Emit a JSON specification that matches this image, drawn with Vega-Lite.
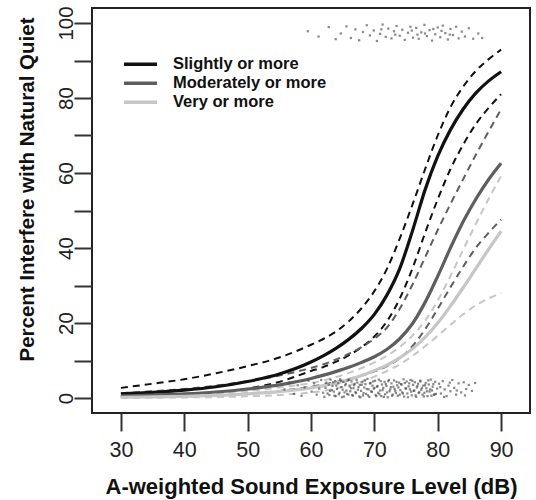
{
  "$schema": "https://vega.github.io/schema/vega-lite/v6.json",
  "width": 438,
  "height": 405,
  "autosize": "none",
  "padding": {"left": 92, "top": 8, "right": 6, "bottom": 87},
  "config": {
    "font": "Liberation Sans",
    "view": {"stroke": "#222", "strokeWidth": 2},
    "axis": {"grid": false, "domain": false, "tickColor": "#333", "tickWidth": 2, "tickSize": 18, "labelColor": "#222", "titleColor": "#111"},
    "legend": {"orient": "none", "legendX": 30, "legendY": 47, "title": null, "symbolType": "stroke", "symbolSize": 1089, "symbolStrokeWidth": 3.5, "labelFontSize": 16.5, "labelFontWeight": "bold", "labelColor": "#111", "labelOffset": 14, "clipHeight": 18.3, "rowPadding": 0, "padding": 0}
  },
  "datasets": {
    "curves": [
      {"g":"Slightly or more","b":"fit","x":30,"v":1.1},{"g":"Slightly or more","b":"fit","x":35,"v":1.5},{"g":"Slightly or more","b":"fit","x":40,"v":2.1},{"g":"Slightly or more","b":"fit","x":45,"v":3.0},{"g":"Slightly or more","b":"fit","x":50,"v":4.4},{"g":"Slightly or more","b":"fit","x":55,"v":6.4},{"g":"Slightly or more","b":"fit","x":60,"v":9.6},{"g":"Slightly or more","b":"fit","x":62,"v":11.3},{"g":"Slightly or more","b":"fit","x":64,"v":13.3},{"g":"Slightly or more","b":"fit","x":66,"v":15.7},{"g":"Slightly or more","b":"fit","x":68,"v":18.6},{"g":"Slightly or more","b":"fit","x":70,"v":22.3},{"g":"Slightly or more","b":"fit","x":72,"v":27.5},{"g":"Slightly or more","b":"fit","x":74,"v":34.5},{"g":"Slightly or more","b":"fit","x":76,"v":44.5},{"g":"Slightly or more","b":"fit","x":78,"v":55.5},{"g":"Slightly or more","b":"fit","x":80,"v":64.5},{"g":"Slightly or more","b":"fit","x":82,"v":71.5},{"g":"Slightly or more","b":"fit","x":84,"v":77},{"g":"Slightly or more","b":"fit","x":86,"v":81.3},{"g":"Slightly or more","b":"fit","x":88,"v":84.5},{"g":"Slightly or more","b":"fit","x":90,"v":87},
      {"g":"Slightly or more","b":"hi","x":30,"v":2.7},{"g":"Slightly or more","b":"hi","x":35,"v":3.8},{"g":"Slightly or more","b":"hi","x":40,"v":5.0},{"g":"Slightly or more","b":"hi","x":45,"v":6.6},{"g":"Slightly or more","b":"hi","x":50,"v":8.5},{"g":"Slightly or more","b":"hi","x":55,"v":10.8},{"g":"Slightly or more","b":"hi","x":60,"v":14.2},{"g":"Slightly or more","b":"hi","x":62,"v":15.8},{"g":"Slightly or more","b":"hi","x":64,"v":17.8},{"g":"Slightly or more","b":"hi","x":66,"v":20.5},{"g":"Slightly or more","b":"hi","x":68,"v":24},{"g":"Slightly or more","b":"hi","x":70,"v":28.5},{"g":"Slightly or more","b":"hi","x":72,"v":34.5},{"g":"Slightly or more","b":"hi","x":74,"v":42.5},{"g":"Slightly or more","b":"hi","x":76,"v":51.5},{"g":"Slightly or more","b":"hi","x":78,"v":61},{"g":"Slightly or more","b":"hi","x":80,"v":70},{"g":"Slightly or more","b":"hi","x":82,"v":77.5},{"g":"Slightly or more","b":"hi","x":84,"v":83},{"g":"Slightly or more","b":"hi","x":86,"v":87.2},{"g":"Slightly or more","b":"hi","x":88,"v":90.3},{"g":"Slightly or more","b":"hi","x":90,"v":92.9},
      {"g":"Slightly or more","b":"lo","x":30,"v":0.4},{"g":"Slightly or more","b":"lo","x":35,"v":0.6},{"g":"Slightly or more","b":"lo","x":40,"v":0.9},{"g":"Slightly or more","b":"lo","x":45,"v":1.4},{"g":"Slightly or more","b":"lo","x":50,"v":2.5},{"g":"Slightly or more","b":"lo","x":55,"v":4.3},{"g":"Slightly or more","b":"lo","x":60,"v":7.2},{"g":"Slightly or more","b":"lo","x":62,"v":8.3},{"g":"Slightly or more","b":"lo","x":64,"v":9.7},{"g":"Slightly or more","b":"lo","x":66,"v":11.4},{"g":"Slightly or more","b":"lo","x":68,"v":13.6},{"g":"Slightly or more","b":"lo","x":70,"v":16.4},{"g":"Slightly or more","b":"lo","x":72,"v":20.5},{"g":"Slightly or more","b":"lo","x":74,"v":26.5},{"g":"Slightly or more","b":"lo","x":76,"v":34.5},{"g":"Slightly or more","b":"lo","x":78,"v":44},{"g":"Slightly or more","b":"lo","x":80,"v":53},{"g":"Slightly or more","b":"lo","x":82,"v":61},{"g":"Slightly or more","b":"lo","x":84,"v":67.5},{"g":"Slightly or more","b":"lo","x":86,"v":73},{"g":"Slightly or more","b":"lo","x":88,"v":77.3},{"g":"Slightly or more","b":"lo","x":90,"v":81},
      {"g":"Moderately or more","b":"fit","x":30,"v":0.5},{"g":"Moderately or more","b":"fit","x":35,"v":0.8},{"g":"Moderately or more","b":"fit","x":40,"v":1.1},{"g":"Moderately or more","b":"fit","x":45,"v":1.6},{"g":"Moderately or more","b":"fit","x":50,"v":2.4},{"g":"Moderately or more","b":"fit","x":55,"v":3.5},{"g":"Moderately or more","b":"fit","x":60,"v":5.2},{"g":"Moderately or more","b":"fit","x":62,"v":6.1},{"g":"Moderately or more","b":"fit","x":64,"v":7.1},{"g":"Moderately or more","b":"fit","x":66,"v":8.2},{"g":"Moderately or more","b":"fit","x":68,"v":9.5},{"g":"Moderately or more","b":"fit","x":70,"v":11},{"g":"Moderately or more","b":"fit","x":72,"v":13},{"g":"Moderately or more","b":"fit","x":74,"v":15.8},{"g":"Moderately or more","b":"fit","x":76,"v":19.8},{"g":"Moderately or more","b":"fit","x":78,"v":25.5},{"g":"Moderately or more","b":"fit","x":80,"v":32.5},{"g":"Moderately or more","b":"fit","x":82,"v":40},{"g":"Moderately or more","b":"fit","x":84,"v":47},{"g":"Moderately or more","b":"fit","x":86,"v":53},{"g":"Moderately or more","b":"fit","x":88,"v":58.2},{"g":"Moderately or more","b":"fit","x":90,"v":62.6},
      {"g":"Moderately or more","b":"hi","x":30,"v":1.3},{"g":"Moderately or more","b":"hi","x":35,"v":1.8},{"g":"Moderately or more","b":"hi","x":40,"v":2.4},{"g":"Moderately or more","b":"hi","x":45,"v":3.3},{"g":"Moderately or more","b":"hi","x":50,"v":4.5},{"g":"Moderately or more","b":"hi","x":55,"v":6},{"g":"Moderately or more","b":"hi","x":60,"v":8},{"g":"Moderately or more","b":"hi","x":62,"v":9},{"g":"Moderately or more","b":"hi","x":64,"v":10.3},{"g":"Moderately or more","b":"hi","x":66,"v":11.8},{"g":"Moderately or more","b":"hi","x":68,"v":13.6},{"g":"Moderately or more","b":"hi","x":70,"v":15.8},{"g":"Moderately or more","b":"hi","x":72,"v":18.8},{"g":"Moderately or more","b":"hi","x":74,"v":23.8},{"g":"Moderately or more","b":"hi","x":76,"v":30.2},{"g":"Moderately or more","b":"hi","x":78,"v":37.5},{"g":"Moderately or more","b":"hi","x":80,"v":44.8},{"g":"Moderately or more","b":"hi","x":82,"v":51.7},{"g":"Moderately or more","b":"hi","x":84,"v":58.3},{"g":"Moderately or more","b":"hi","x":86,"v":64.8},{"g":"Moderately or more","b":"hi","x":88,"v":71},{"g":"Moderately or more","b":"hi","x":90,"v":77},
      {"g":"Moderately or more","b":"lo","x":30,"v":0.2},{"g":"Moderately or more","b":"lo","x":35,"v":0.3},{"g":"Moderately or more","b":"lo","x":40,"v":0.5},{"g":"Moderately or more","b":"lo","x":45,"v":0.8},{"g":"Moderately or more","b":"lo","x":50,"v":1.2},{"g":"Moderately or more","b":"lo","x":55,"v":1.9},{"g":"Moderately or more","b":"lo","x":60,"v":3},{"g":"Moderately or more","b":"lo","x":62,"v":3.6},{"g":"Moderately or more","b":"lo","x":64,"v":4.3},{"g":"Moderately or more","b":"lo","x":66,"v":5.1},{"g":"Moderately or more","b":"lo","x":68,"v":6},{"g":"Moderately or more","b":"lo","x":70,"v":7.1},{"g":"Moderately or more","b":"lo","x":72,"v":8.5},{"g":"Moderately or more","b":"lo","x":74,"v":10.6},{"g":"Moderately or more","b":"lo","x":76,"v":13.8},{"g":"Moderately or more","b":"lo","x":78,"v":18.3},{"g":"Moderately or more","b":"lo","x":80,"v":23.8},{"g":"Moderately or more","b":"lo","x":82,"v":29.5},{"g":"Moderately or more","b":"lo","x":84,"v":35},{"g":"Moderately or more","b":"lo","x":86,"v":40},{"g":"Moderately or more","b":"lo","x":88,"v":44},{"g":"Moderately or more","b":"lo","x":90,"v":47.6},
      {"g":"Very or more","b":"fit","x":30,"v":0.2},{"g":"Very or more","b":"fit","x":35,"v":0.3},{"g":"Very or more","b":"fit","x":40,"v":0.45},{"g":"Very or more","b":"fit","x":45,"v":0.7},{"g":"Very or more","b":"fit","x":50,"v":1.1},{"g":"Very or more","b":"fit","x":55,"v":1.7},{"g":"Very or more","b":"fit","x":60,"v":2.7},{"g":"Very or more","b":"fit","x":62,"v":3.3},{"g":"Very or more","b":"fit","x":64,"v":4},{"g":"Very or more","b":"fit","x":66,"v":4.9},{"g":"Very or more","b":"fit","x":68,"v":6},{"g":"Very or more","b":"fit","x":70,"v":7.3},{"g":"Very or more","b":"fit","x":72,"v":8.8},{"g":"Very or more","b":"fit","x":74,"v":10.7},{"g":"Very or more","b":"fit","x":76,"v":13.1},{"g":"Very or more","b":"fit","x":78,"v":16.2},{"g":"Very or more","b":"fit","x":80,"v":20},{"g":"Very or more","b":"fit","x":82,"v":24.5},{"g":"Very or more","b":"fit","x":84,"v":29.4},{"g":"Very or more","b":"fit","x":86,"v":34.5},{"g":"Very or more","b":"fit","x":88,"v":39.6},{"g":"Very or more","b":"fit","x":90,"v":44.5},
      {"g":"Very or more","b":"hi","x":30,"v":0.6},{"g":"Very or more","b":"hi","x":35,"v":0.8},{"g":"Very or more","b":"hi","x":40,"v":1},{"g":"Very or more","b":"hi","x":45,"v":1.4},{"g":"Very or more","b":"hi","x":50,"v":1.9},{"g":"Very or more","b":"hi","x":55,"v":2.8},{"g":"Very or more","b":"hi","x":60,"v":4},{"g":"Very or more","b":"hi","x":62,"v":4.7},{"g":"Very or more","b":"hi","x":64,"v":5.6},{"g":"Very or more","b":"hi","x":66,"v":6.7},{"g":"Very or more","b":"hi","x":68,"v":8},{"g":"Very or more","b":"hi","x":70,"v":9.5},{"g":"Very or more","b":"hi","x":72,"v":11.3},{"g":"Very or more","b":"hi","x":74,"v":13.6},{"g":"Very or more","b":"hi","x":76,"v":16.6},{"g":"Very or more","b":"hi","x":78,"v":20.6},{"g":"Very or more","b":"hi","x":80,"v":26},{"g":"Very or more","b":"hi","x":82,"v":32.5},{"g":"Very or more","b":"hi","x":84,"v":39.5},{"g":"Very or more","b":"hi","x":86,"v":46.4},{"g":"Very or more","b":"hi","x":88,"v":53},{"g":"Very or more","b":"hi","x":90,"v":59.2},
      {"g":"Very or more","b":"lo","x":30,"v":0.05},{"g":"Very or more","b":"lo","x":35,"v":0.08},{"g":"Very or more","b":"lo","x":40,"v":0.15},{"g":"Very or more","b":"lo","x":45,"v":0.25},{"g":"Very or more","b":"lo","x":50,"v":0.45},{"g":"Very or more","b":"lo","x":55,"v":0.8},{"g":"Very or more","b":"lo","x":60,"v":1.5},{"g":"Very or more","b":"lo","x":62,"v":1.9},{"g":"Very or more","b":"lo","x":64,"v":2.6},{"g":"Very or more","b":"lo","x":66,"v":3.4},{"g":"Very or more","b":"lo","x":68,"v":4.4},{"g":"Very or more","b":"lo","x":70,"v":5.7},{"g":"Very or more","b":"lo","x":72,"v":7.2},{"g":"Very or more","b":"lo","x":74,"v":9},{"g":"Very or more","b":"lo","x":76,"v":11.2},{"g":"Very or more","b":"lo","x":78,"v":13.8},{"g":"Very or more","b":"lo","x":80,"v":16.6},{"g":"Very or more","b":"lo","x":82,"v":19.5},{"g":"Very or more","b":"lo","x":84,"v":22.3},{"g":"Very or more","b":"lo","x":86,"v":24.7},{"g":"Very or more","b":"lo","x":88,"v":26.5},{"g":"Very or more","b":"lo","x":90,"v":28}
    ],
    "pts": [
      {"x":55.8,"v":2.3},{"x":56.6,"v":4.1},{"x":57.3,"v":1.1},{"x":57.9,"v":3.4},{"x":58.5,"v":0.6},{"x":59.0,"v":2.8},{"x":59.6,"v":4.6},{"x":60.1,"v":1.7},{"x":60.5,"v":3.9},{"x":60.9,"v":0.9},{"x":61.3,"v":2.5},{"x":61.6,"v":4.8},{"x":61.9,"v":1.4},
      {"x":62.1,"v":0.3},{"x":62.3,"v":2.7},{"x":62.4,"v":4.1},{"x":62.6,"v":1.2},{"x":62.8,"v":3.6},{"x":62.9,"v":0.8},{"x":63.1,"v":4.9},{"x":63.3,"v":2.1},{"x":63.4,"v":3.2},{"x":63.6,"v":1.7},{"x":63.8,"v":4.5},{"x":63.9,"v":0.5},{"x":64.1,"v":2.4},{"x":64.3,"v":3.9},{"x":64.4,"v":1.0},{"x":64.6,"v":5.0},{"x":64.8,"v":2.9},{"x":64.9,"v":0.2},{"x":65.1,"v":4.3},{"x":65.3,"v":1.5},{"x":65.4,"v":3.4},{"x":65.6,"v":2.0},{"x":65.8,"v":4.7},{"x":65.9,"v":0.9},{"x":66.1,"v":3.1},{"x":66.2,"v":1.8},{"x":66.4,"v":4.4},{"x":66.6,"v":0.6},{"x":66.7,"v":2.6},{"x":66.9,"v":3.8},{"x":67.1,"v":1.3},{"x":67.2,"v":4.8},{"x":67.4,"v":2.2},{"x":67.6,"v":0.4},{"x":67.7,"v":3.5},{"x":67.9,"v":1.9},{"x":68.1,"v":4.2},{"x":68.2,"v":0.7},{"x":68.4,"v":2.8},{"x":68.6,"v":3.7},{"x":68.7,"v":1.1},{"x":68.9,"v":5.1},{"x":69.1,"v":2.3},{"x":69.2,"v":0.3},{"x":69.4,"v":4.0},{"x":69.6,"v":1.6},{"x":69.7,"v":3.3},{"x":69.9,"v":2.5},{"x":70.1,"v":4.6},{"x":70.2,"v":0.8},{"x":70.4,"v":3.0},{"x":70.6,"v":1.4},{"x":70.7,"v":4.9},{"x":70.9,"v":2.0},{"x":71.1,"v":0.5},{"x":71.2,"v":3.6},{"x":71.4,"v":2.7},{"x":71.6,"v":4.3},{"x":71.7,"v":1.0},{"x":71.9,"v":3.2},{"x":72.1,"v":0.2},{"x":72.2,"v":4.5},{"x":72.4,"v":1.8},{"x":72.6,"v":2.9},{"x":72.7,"v":3.9},{"x":72.9,"v":0.9},{"x":73.1,"v":4.7},{"x":73.2,"v":2.4},{"x":73.4,"v":1.3},{"x":73.6,"v":3.4},{"x":73.7,"v":0.6},{"x":73.9,"v":4.1},{"x":74.1,"v":2.1},{"x":74.2,"v":3.7},{"x":74.4,"v":1.5},{"x":74.6,"v":5.0},{"x":74.7,"v":0.4},{"x":74.9,"v":2.6},{"x":75.1,"v":4.4},{"x":75.2,"v":1.2},{"x":75.4,"v":3.1},{"x":75.6,"v":2.3},{"x":75.7,"v":4.8},{"x":75.9,"v":0.7},{"x":76.1,"v":3.5},{"x":76.2,"v":1.9},{"x":76.4,"v":4.2},{"x":76.6,"v":0.3},{"x":76.7,"v":2.8},{"x":76.9,"v":3.8},{"x":77.1,"v":1.6},{"x":77.2,"v":4.6},{"x":77.4,"v":2.2},{"x":77.6,"v":0.9},{"x":77.7,"v":3.3},{"x":77.9,"v":1.4},{"x":78.1,"v":4.0},{"x":78.2,"v":2.6},{"x":78.4,"v":0.5},{"x":78.6,"v":3.6},{"x":78.7,"v":1.7},{"x":78.9,"v":4.9},{"x":79.1,"v":2.0},{"x":79.2,"v":3.0},{"x":79.4,"v":0.8},{"x":79.6,"v":4.3},{"x":79.7,"v":1.1},{"x":79.9,"v":2.5},
      {"x":63.0,"v":1.9},{"x":63.5,"v":4.2},{"x":63.7,"v":0.6},{"x":64.0,"v":3.3},{"x":64.5,"v":1.4},{"x":64.7,"v":4.6},{"x":65.0,"v":2.2},{"x":65.2,"v":0.4},{"x":65.5,"v":3.8},{"x":65.7,"v":1.1},{"x":66.0,"v":4.9},{"x":66.3,"v":2.6},{"x":66.5,"v":0.8},{"x":66.8,"v":3.4},{"x":67.0,"v":1.6},{"x":67.3,"v":4.1},{"x":67.5,"v":2.9},{"x":67.8,"v":0.2},{"x":68.0,"v":3.5},{"x":68.3,"v":1.3},{"x":68.5,"v":4.7},{"x":68.8,"v":2.4},{"x":69.0,"v":0.7},{"x":69.3,"v":3.9},{"x":69.5,"v":1.8},{"x":69.8,"v":4.4},{"x":70.0,"v":2.7},{"x":70.3,"v":0.5},{"x":70.5,"v":3.2},{"x":70.8,"v":1.0},{"x":71.0,"v":4.5},{"x":71.3,"v":2.1},{"x":71.5,"v":0.3},{"x":71.8,"v":3.7},{"x":72.0,"v":1.5},{"x":72.3,"v":4.8},{"x":72.5,"v":2.3},{"x":72.8,"v":0.6},{"x":73.0,"v":3.0},{"x":73.3,"v":1.9},{"x":73.5,"v":4.3},{"x":73.8,"v":2.8},{"x":74.0,"v":0.9},{"x":74.3,"v":3.6},{"x":74.5,"v":1.2},{"x":74.8,"v":4.0},{"x":75.0,"v":2.5},{"x":75.3,"v":0.2},{"x":75.5,"v":3.9},{"x":75.8,"v":1.7},{"x":76.0,"v":4.6},{"x":76.3,"v":2.0},{"x":76.5,"v":0.7},{"x":76.8,"v":3.2},{"x":77.0,"v":1.3},{"x":77.3,"v":4.4},{"x":77.5,"v":2.7},{"x":77.8,"v":0.4},{"x":78.0,"v":3.4},{"x":78.3,"v":1.8},{"x":78.5,"v":4.7},{"x":78.8,"v":2.3},{"x":79.0,"v":0.6},{"x":79.3,"v":3.7},{"x":79.5,"v":1.0},
      {"x":80.2,"v":3.8},{"x":80.5,"v":1.2},{"x":80.8,"v":4.5},{"x":81.1,"v":2.3},{"x":81.4,"v":0.5},{"x":81.7,"v":3.3},{"x":82.0,"v":1.8},{"x":82.3,"v":4.8},{"x":82.6,"v":2.7},{"x":82.9,"v":0.9},{"x":83.3,"v":3.9},{"x":83.7,"v":1.5},{"x":84.1,"v":4.2},{"x":84.5,"v":2.4},{"x":84.9,"v":3.5},{"x":85.4,"v":1.9},{"x":85.9,"v":4.0},{"x":80.4,"v":2.9},{"x":81.0,"v":0.3},{"x":81.9,"v":4.1},{"x":83.0,"v":2.0},{"x":84.3,"v":0.7},
      {"x":59.5,"v":97.8},{"x":61.2,"v":96.4},{"x":62.8,"v":98.9},{"x":63.9,"v":95.7},{"x":64.7,"v":97.2},{"x":65.6,"v":99.1},{"x":66.3,"v":96.0},{"x":67.0,"v":98.3},{"x":67.6,"v":95.4},{"x":68.2,"v":97.6},{"x":68.8,"v":99.4},{"x":69.3,"v":96.7},{"x":69.9,"v":98.0},{"x":70.4,"v":95.2},{"x":70.9,"v":97.1},{"x":71.3,"v":99.6},{"x":71.8,"v":96.3},{"x":72.2,"v":98.5},{"x":72.7,"v":95.9},{"x":73.1,"v":97.8},{"x":73.5,"v":99.2},{"x":74.0,"v":96.6},{"x":74.4,"v":98.2},{"x":74.8,"v":95.5},{"x":75.3,"v":97.4},{"x":75.7,"v":99.0},{"x":76.1,"v":96.1},{"x":76.6,"v":98.7},{"x":77.0,"v":95.8},{"x":77.4,"v":97.5},{"x":77.9,"v":99.5},{"x":78.3,"v":96.5},{"x":78.7,"v":98.1},{"x":79.1,"v":95.3},{"x":79.6,"v":97.0},{"x":80.0,"v":98.8},{"x":80.4,"v":96.2},{"x":80.8,"v":99.3},{"x":81.2,"v":97.3},{"x":81.6,"v":95.6},{"x":82.0,"v":98.4},{"x":82.4,"v":96.8},{"x":82.9,"v":99.0},{"x":83.3,"v":95.9},{"x":83.8,"v":97.7},{"x":84.3,"v":96.4},{"x":84.9,"v":98.6},{"x":85.6,"v":95.8},{"x":86.4,"v":97.2},{"x":87.0,"v":96.0},{"x":73.3,"v":96.9},{"x":75.9,"v":98.0},{"x":78.0,"v":97.2},{"x":80.6,"v":97.9},{"x":81.9,"v":96.9},{"x":71.1,"v":98.3},{"x":76.8,"v":96.9},{"x":79.3,"v":98.4}
    ],
    "refs": [{"v":0},{"v":100}]
  },
  "encoding": {
    "x": {"field": "x", "type": "quantitative", "scale": {"domain": [25.44, 94.56], "nice": false, "zero": false},
      "axis": {"values": [30,40,50,60,70,80,90], "title": "A-weighted Sound Exposure Level (dB)", "labelFontSize": 21.5, "labelPadding": 8, "titleFontSize": 22, "titleFontWeight": "bold", "titleBaseline": "alphabetic", "titleY": 80}},
    "y": {"field": "v", "type": "quantitative", "scale": {"domain": [-4, 104], "nice": false, "zero": false},
      "axis": {"values": [0,10,20,30,40,50,60,70,80,90,100], "labelExpr": "datum.value % 20 === 0 ? datum.label : ''", "labelOverlap": false, "labelAngle": 270, "labelAlign": "center", "labelBaseline": "alphabetic", "labelPadding": 2, "labelFontSize": 20.5, "title": "Percent Interfere with Natural Quiet", "titleFontSize": 20.5, "titleFontWeight": "bold", "titleAngle": 270, "titleBaseline": "alphabetic", "titleAlign": "center", "titleX": -59, "titleY": 181}}
  },
  "layer": [
    {
      "data": {"name": "refs"},
      "mark": {"type": "rule", "color": "#333", "strokeWidth": 2.5},
      "encoding": {"x": {"datum": 28}, "x2": {"datum": 92}}
    },
    {
      "data": {"name": "curves"},
      "transform": [{"filter": "datum.b !== 'fit'"}],
      "mark": {"type": "line", "strokeWidth": 2, "strokeDash": [7, 5], "interpolate": "monotone"},
      "encoding": {
        "color": {"field": "g", "type": "nominal", "scale": {"domain": ["Slightly or more", "Moderately or more", "Very or more"], "range": ["#111111", "#5e5e5e", "#c6c6c6"]}},
        "detail": {"field": "b"}
      }
    },
    {
      "data": {"name": "curves"},
      "transform": [{"filter": "datum.b === 'fit'"}],
      "mark": {"type": "line", "strokeWidth": 3.2, "interpolate": "monotone"},
      "encoding": {
        "color": {"field": "g", "type": "nominal", "scale": {"domain": ["Slightly or more", "Moderately or more", "Very or more"], "range": ["#111111", "#5e5e5e", "#c6c6c6"]}}
      }
    },
    {
      "data": {"name": "pts"},
      "mark": {"type": "square", "size": 5, "color": "#3a3a3a", "opacity": 0.6}
    }
  ]
}
